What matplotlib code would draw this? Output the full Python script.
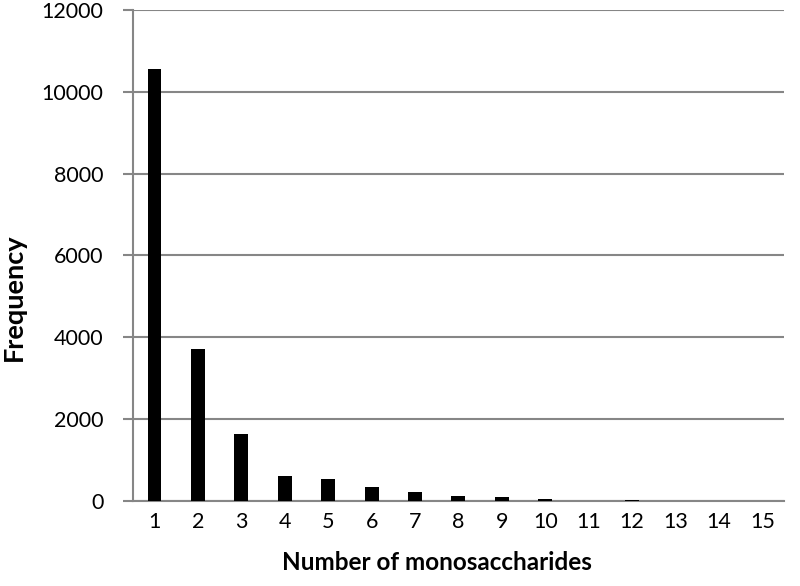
import numpy as np
import matplotlib.pyplot as plt

labels = [str(i) for i in range(1, 16)]
frequency = [10560, 3720, 1650, 620, 550, 345, 230, 125, 105, 55, 10, 15, 0, 0, 8]

plt.rcParams['font.family'] = ['Lato', 'DejaVu Sans']
_grid = '#868686'


def draw_chart(ofpath):
    fig = plt.figure(figsize=(8, 5.86), dpi=100)
    ax = fig.add_axes([0.166, 0.145, 0.814, 0.838])
    ind = np.arange(len(labels))
    ax.bar(ind, frequency, 0.32, color='black', zorder=3)

    ax.set_xlim(-0.5, len(labels) - 0.5)
    ax.set_ylim(0, 12000)
    ax.set_yticks(np.arange(0, 12001, 2000))
    ax.set_xticks(ind)
    ax.set_xticklabels(labels)
    ax.yaxis.grid(True, color=_grid, linewidth=1.5, zorder=0)

    for s in ['top', 'right']:
        ax.spines[s].set_visible(False)
    for s in ['left', 'bottom']:
        ax.spines[s].set_color(_grid)
        ax.spines[s].set_linewidth(1.5)
    ax.tick_params(axis='y', length=7, width=1.5, color=_grid, labelsize=15.5, pad=14)
    ax.tick_params(axis='x', length=0, labelsize=15.5, pad=8)

    ax.set_xlabel('Number of monosaccharides', fontsize=17.5, fontweight='bold')
    ax.xaxis.set_label_coords(0.467, -0.102)
    ax.set_ylabel('Frequency', fontsize=19.5, fontweight='bold')
    ax.yaxis.set_label_coords(-0.164, 0.415)
    fig.savefig(ofpath)
    plt.close(fig)


if __name__ == '__main__':
    draw_chart('out.png')
